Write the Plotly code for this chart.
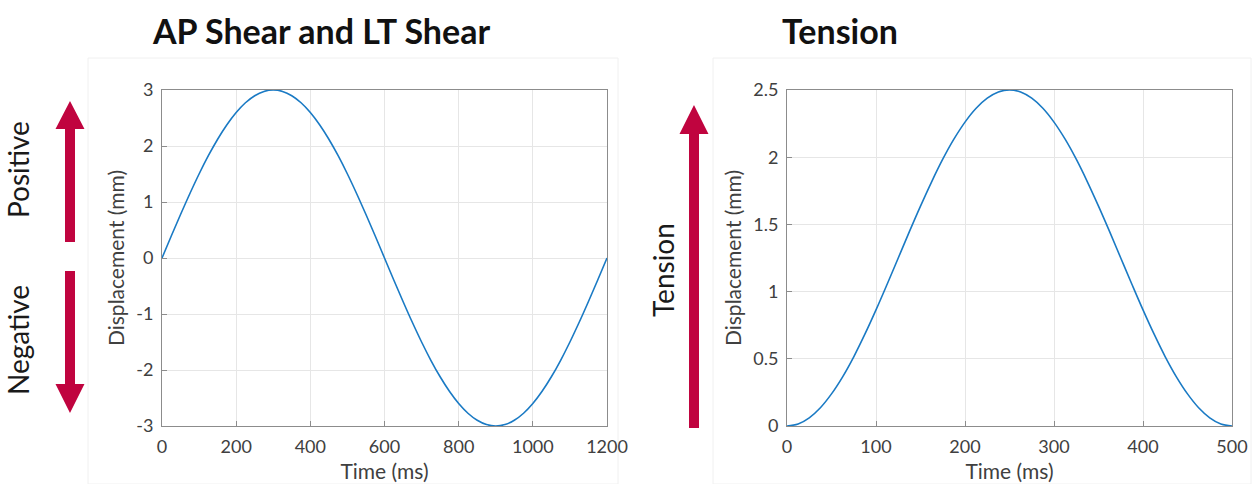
import plotly.graph_objects as go

# Shear displacement profile (ms, mm)
shear_time = [0, 25, 50, 75, 100, 125, 150, 175, 200, 225, 250, 275, 300,
              325, 350, 375, 400, 425, 450, 475, 500, 525, 550, 575, 600,
              625, 650, 675, 700, 725, 750, 775, 800, 825, 850, 875, 900,
              925, 950, 975, 1000, 1025, 1050, 1075, 1100, 1125, 1150, 1175, 1200]
shear_disp = [0, 0.392, 0.776, 1.148, 1.5, 1.826, 2.121, 2.380, 2.598, 2.772, 2.898, 2.974, 3.0,
              2.974, 2.898, 2.772, 2.598, 2.380, 2.121, 1.826, 1.5, 1.148, 0.776, 0.392, 0,
              -0.392, -0.776, -1.148, -1.5, -1.826, -2.121, -2.380, -2.598, -2.772, -2.898, -2.974, -3.0,
              -2.974, -2.898, -2.772, -2.598, -2.380, -2.121, -1.826, -1.5, -1.148, -0.776, -0.392, 0]

# Tension displacement profile (ms, mm)
tension_time = [0, 12.5, 25, 37.5, 50, 62.5, 75, 87.5, 100, 112.5, 125, 137.5, 150,
                162.5, 175, 187.5, 200, 212.5, 225, 237.5, 250, 262.5, 275, 287.5,
                300, 312.5, 325, 337.5, 350, 362.5, 375, 387.5, 400, 412.5, 425,
                437.5, 450, 462.5, 475, 487.5, 500]
tension_disp = [0, 0.015, 0.061, 0.136, 0.239, 0.366, 0.515, 0.683, 0.864, 1.055, 1.25, 1.446, 1.636,
                1.817, 1.985, 2.134, 2.261, 2.364, 2.439, 2.485, 2.5, 2.485, 2.439, 2.364,
                2.261, 2.134, 1.985, 1.817, 1.636, 1.446, 1.25, 1.055, 0.864, 0.683, 0.515,
                0.366, 0.239, 0.136, 0.061, 0.015, 0]

shear_xticks = [0, 200, 400, 600, 800, 1000, 1200]
shear_yticks = [-3, -2, -1, 0, 1, 2, 3]
tension_xticks = [0, 100, 200, 300, 400, 500]
tension_yticks = [0, 0.5, 1, 1.5, 2, 2.5]

W, H = 1252, 484
FONT = "Lato"
LINE = "#1a7ac4"
ARROW = "#C0043F"
TICK_FONT = dict(family=FONT, size=18, color="#404040")
LABEL_FONT = dict(family=FONT, size=21, color="#404040")


def px(x):
    return x / W


def py(y):
    return 1 - y / H


def labels(vals):
    # plain hyphen-minus for negative numbers
    return [f"{v:g}" for v in vals]


fig = go.Figure()
fig.add_trace(go.Scatter(x=shear_time, y=shear_disp, mode="lines",
                         line=dict(color=LINE, width=1.6, shape="spline", smoothing=1),
                         xaxis="x", yaxis="y", showlegend=False))
fig.add_trace(go.Scatter(x=tension_time, y=tension_disp, mode="lines",
                         line=dict(color=LINE, width=1.6, shape="spline", smoothing=1),
                         xaxis="x2", yaxis="y2", showlegend=False))

axis_common = dict(showline=True, linecolor="#8c8c8c", linewidth=1, mirror=True,
                   ticks="inside", ticklen=5, tickcolor="#8c8c8c",
                   showgrid=True, gridcolor="#e6e6e6", gridwidth=1,
                   zeroline=False, tickfont=TICK_FONT, automargin=False)

ydom = [py(426), py(90)]
fig.update_layout(
    width=W, height=H,
    margin=dict(l=0, r=0, t=0, b=0, autoexpand=False),
    paper_bgcolor="white", plot_bgcolor="white",
    xaxis=dict(domain=[px(162), px(607)], range=[0, 1200],
               tickvals=shear_xticks, ticktext=labels(shear_xticks), ticklabelstandoff=4,
               title=dict(text="Time (ms)", font=LABEL_FONT, standoff=8),
               anchor="y", **axis_common),
    yaxis=dict(domain=ydom, range=[-3, 3],
               tickvals=shear_yticks, ticktext=labels(shear_yticks), ticklabelstandoff=4,
               title=dict(text="Displacement (mm)", font=LABEL_FONT, standoff=5),
               anchor="x", **axis_common),
    xaxis2=dict(domain=[px(787), px(1232)], range=[0, 500],
                tickvals=tension_xticks, ticktext=labels(tension_xticks), ticklabelstandoff=4,
                title=dict(text="Time (ms)", font=LABEL_FONT, standoff=8),
                anchor="y2", **axis_common),
    yaxis2=dict(domain=ydom, range=[0, 2.5],
                tickvals=tension_yticks, ticktext=labels(tension_yticks), ticklabelstandoff=4,
                title=dict(text="Displacement (mm)", font=LABEL_FONT, standoff=5),
                anchor="x2", **axis_common),
)


def arrow_path(cx, tip, base, tail, half_head=14.5, half_shaft=5):
    pts = [(cx, tip), (cx + half_head, base), (cx + half_shaft, base),
           (cx + half_shaft, tail), (cx - half_shaft, tail),
           (cx - half_shaft, base), (cx - half_head, base)]
    return "M " + " L ".join(f"{px(x):.5f},{py(y):.5f}" for x, y in pts) + " Z"


shapes = [
    # faint panel frames
    dict(type="rect", xref="paper", yref="paper", x0=px(88), x1=px(618),
         y0=py(484), y1=py(58), line=dict(color="#f0f0f0", width=1), layer="below"),
    dict(type="rect", xref="paper", yref="paper", x0=px(713), x1=px(1251),
         y0=py(484), y1=py(58), line=dict(color="#f0f0f0", width=1), layer="below"),
    # direction arrows
    dict(type="path", xref="paper", yref="paper", path=arrow_path(70, 101, 129, 242),
         fillcolor=ARROW, line=dict(width=0)),
    dict(type="path", xref="paper", yref="paper", path=arrow_path(70, 413, 384, 271),
         fillcolor=ARROW, line=dict(width=0)),
    dict(type="path", xref="paper", yref="paper", path=arrow_path(694, 105, 134, 428),
         fillcolor=ARROW, line=dict(width=0)),
]
fig.update_layout(shapes=shapes)

side_font = dict(family=FONT, size=28, color="#1a1a1a")
title_font = dict(family=FONT, size=34, color="#111111")
annotations = [
    dict(text="<b>AP Shear and LT Shear</b>", x=px(321), y=py(30), font=title_font),
    dict(text="<b>Tension</b>", x=px(840), y=py(30), font=title_font),
    dict(text="Positive", x=px(18), y=py(170), textangle=-90, font=side_font),
    dict(text="Negative", x=px(18), y=py(340), textangle=-90, font=side_font),
    dict(text="Tension", x=px(663), y=py(270), textangle=-90, font=side_font),
]
for a in annotations:
    fig.add_annotation(xref="paper", yref="paper", showarrow=False,
                       xanchor="center", yanchor="middle", **a)

fig.write_html("out.html")
